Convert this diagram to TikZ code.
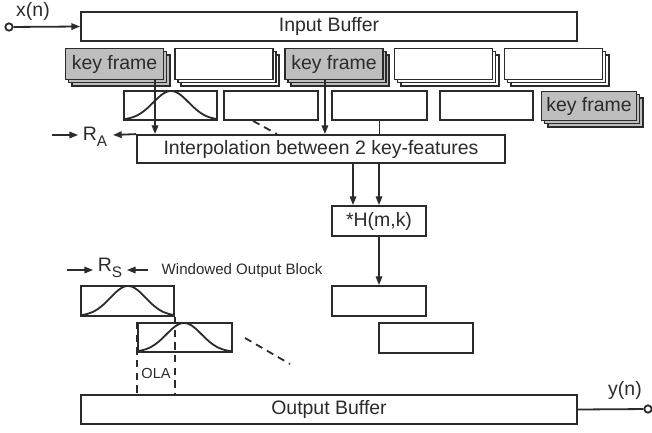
\documentclass[tikz,border=0pt]{standalone}
\usepackage{fontspec}
\setmainfont{Liberation Sans}
\usetikzlibrary{shadows,arrows.meta,calc}
\definecolor{ln}{HTML}{2B2B2B}
\definecolor{kf}{HTML}{BEBEBE}
\begin{document}
\begin{tikzpicture}[x=0.75pt,y=-0.75pt,
  every node/.style={font=\fontsize{14.6}{17}\selectfont, text=ln},
  lw/.style={line width=1.35pt, draw=ln},
  box/.style={lw, rectangle, inner sep=0pt, fill=white},
  stackbox/.style={box, double copy shadow={shadow xshift=2.3pt, shadow yshift=-2.3pt}},
  keybox/.style={stackbox, fill=kf},
  arr/.style={lw, -{Triangle[length=6.5pt,width=4.8pt]}},
  dsh/.style={lw, dash pattern=on 5.5pt off 4pt},
  small/.style={font=\fontsize{11.3}{13}\selectfont},
  port/.style={circle, lw, fill=white, inner sep=0pt, minimum size=5.5pt}
]
\useasboundingbox (0,0) rectangle (652,432);

% input
\node[box, minimum width=496*0.75pt, minimum height=29*0.75pt] (inbuf) at (329,26.5) {Input Buffer};
\node[port] (xin) at (9,27) {};
\node (xlab) at (33,11) {x(n)};
\draw[arr] (xin) -- (inbuf.west);

% key frame stacks
\node[keybox, minimum width=98*0.75pt, minimum height=31*0.75pt] (k1) at (114.5,64) {key frame};
\node[stackbox, minimum width=98*0.75pt, minimum height=31*0.75pt] (k2) at (224,64) {};
\node[keybox, minimum width=98*0.75pt, minimum height=31*0.75pt] (k3) at (334,64) {key frame};
\node[stackbox, minimum width=98*0.75pt, minimum height=31*0.75pt] (k4) at (443.5,64) {};
\node[stackbox, minimum width=98*0.75pt, minimum height=31*0.75pt] (k5) at (553.5,64) {};

% windowed frames
\node[box, minimum width=93*0.75pt, minimum height=29*0.75pt] (w1) at (170.5,105.5) {};
\node[box, minimum width=94*0.75pt, minimum height=29*0.75pt] (w2) at (271,105.5) {};
\node[box, minimum width=95*0.75pt, minimum height=29*0.75pt] (w3) at (379.5,105.5) {};
\node[box, minimum width=93*0.75pt, minimum height=29*0.75pt] (w4) at (486.5,105.5) {};
\node[keybox, minimum width=95*0.75pt, minimum height=29*0.75pt] (k6) at (589,106) {key frame};
\draw[lw] plot[domain=124:217, samples=60, smooth] (\x, {120-29*exp(-((\x-171)/25)^2)});

% interpolation
\node[box, minimum width=368*0.75pt, minimum height=28*0.75pt] (interp) at (321,149) {Interpolation between 2 key-features};
\draw[arr] ([xshift=30.4pt]k1.south) -- ([xshift=30.4pt]k1.south |- interp.north);
\draw[arr] ([xshift=-6.8pt]k3.south) -- ([xshift=-6.8pt]k3.south |- interp.north);
\draw[dsh] ([xshift=-13.5pt]w2.south) -- ([xshift=-33pt]interp.north);
\draw[lw] (w3.south) -- (w3.south |- interp.north);

% R_A
\coordinate (ra) at (113,135);
\draw[arr] (interp.north west) -- (ra);
\node (ralab) at (95,137) {R\raisebox{-0.55ex}{\fontsize{11.5}{13}\selectfont A}};
\coordinate (ral) at (52,135);
\draw[arr] (ral) -- (ralab.west |- ral);

% H
\node[box, minimum width=94*0.75pt, minimum height=30*0.75pt] (H) at (379,221) {*H(m,k)};
\draw[arr] ([xshift=-19.5pt]interp.south -| H.north) -- ([xshift=-19.5pt]H.north);
\draw[arr] (interp.south -| H.north) -- (H.north);

% output blocks
\node[box, minimum width=94*0.75pt, minimum height=30*0.75pt] (ob1) at (379,301) {};
\node[box, minimum width=94*0.75pt, minimum height=30*0.75pt] (ob2) at (426,338) {};
\draw[arr] (H.south) -- (ob1.north);

% windowed output blocks
\node[box, minimum width=93*0.75pt, minimum height=30*0.75pt] (wb1) at (127.5,301) {};
\node[box, minimum width=94*0.75pt, minimum height=29*0.75pt] (wb2) at (185,337.5) {};
\draw[lw] plot[domain=81:174, samples=60, smooth] (\x, {316-30*exp(-((\x-128)/25)^2)});
\draw[lw] plot[domain=138:232, samples=60, smooth] (\x, {352-29*exp(-((\x-184)/25)^2)});

% output buffer
\node[box, minimum width=496*0.75pt, minimum height=29*0.75pt] (outbuf) at (329,409.5) {Output Buffer};
\node[port] (yout) at (648,409) {};
\node (ylab) at (625,390) {y(n)};
\draw[lw] (outbuf.east) -- (yout);

% OLA
\draw[dsh] (wb2.north west) -- (wb2.north west |- outbuf.north);
\draw[dsh] (wb1.south east) -- (wb1.south east |- outbuf.north);
\node[font=\fontsize{10.9}{12}\selectfont] (ola) at (156,373) {OLA};
\coordinate (dd1) at (245,338);
\coordinate (dd2) at (290,364);
\draw[dsh] (dd1) -- (dd2);

% R_S
\node (rslab) at (110,268) {R\raisebox{-0.55ex}{\fontsize{11.5}{13}\selectfont S}};
\coordinate (rsl) at (67,270);
\coordinate (rsr) at (148,270);
\draw[arr] (rsl) -- (rslab.west |- rsl);
\draw[arr] (rsr) -- (rslab.east |- rsr);
\node[small, anchor=west] (wob) at (157,271) {Windowed Output Block};
\end{tikzpicture}
\end{document}
